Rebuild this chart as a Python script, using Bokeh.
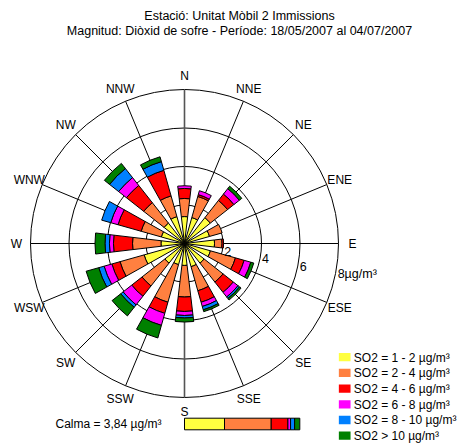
import numpy as np
from bokeh.plotting import figure
from bokeh.models import Range1d, ColumnDataSource
from bokeh.core.properties import value
from bokeh.embed import file_html
from bokeh.resources import INLINE

# ---------------- data ----------------
title_lines = ["Estació: Unitat Mòbil 2 Immissions",
               "Magnitud: Diòxid de sofre - Període: 18/05/2007 al 04/07/2007"]
directions = ["N", "NNE", "NE", "ENE", "E", "ESE", "SE", "SSE",
              "S", "SSW", "SW", "WSW", "W", "WNW", "NW", "NNW"]
bearings = [0, 22.5, 45, 67.5, 90, 112.5, 135, 157.5,
            180, 202.5, 225, 247.5, 270, 292.5, 315, 337.5]
class_labels = ["SO2 = 1 - 2 µg/m³", "SO2 = 2 - 4 µg/m³", "SO2 = 4 - 6 µg/m³",
                "SO2 = 6 - 8 µg/m³", "SO2 = 8 - 10 µg/m³", "SO2 > 10 µg/m³"]
class_colors = ["#FFFF40", "#FF8040", "#FF0000", "#FF00FF", "#0080FF", "#008000"]

so2_1_2  = [1.40, 1.40, 1.71, 1.35, 1.56, 1.40, 1.30, 1.25, 1.14, 1.14, 1.30, 2.18, 1.22, 1.25, 1.35, 1.45]
so2_2_4  = [0.94, 1.14, 1.14, 0.68, 0.39, 1.35, 1.25, 1.30, 1.64, 2.03, 1.51, 1.30, 1.48, 1.09, 1.35, 1.12]
so2_4_6  = [0.52, 0.10, 0.42, 0.00, 0.08, 0.47, 0.68, 0.62, 0.75, 0.60, 0.68, 0.44, 0.99, 1.25, 1.14, 1.38]
so2_6_8  = [0.14, 0.21, 0.36, 0.00, 0.00, 0.36, 0.31, 0.23, 0.21, 0.65, 0.57, 0.42, 0.21, 0.39, 0.52, 0.00]
so2_8_10 = [0.00, 0.00, 0.00, 0.00, 0.00, 0.00, 0.10, 0.18, 0.13, 0.00, 0.16, 0.29, 0.23, 0.49, 0.60, 0.47]
so2_gt10 = [0.00, 0.00, 0.16, 0.00, 0.00, 0.16, 0.10, 0.10, 0.21, 0.68, 0.57, 0.68, 0.52, 0.00, 0.34, 0.26]

rings = [2, 4, 6, 8]
ring_labels = ["2", "4", "6", "8µg/m³"]

calm_label = "Calma = 3,84 µg/m³"
calm_shares = [34.7, 40.5, 14.5, 2.3, 3.5, 4.5]   # percent of calm bar

# ---------------- geometry helpers ----------------
S = 19.25            # px per unit
CX, CY = 184, 243    # rose centre on page
W, H = 462, 443
TXT = 4.3 - 4.0      # baseline offset below visual centre of caps (px)

def X(px):
    return (px - CX) / S

def Y(py):
    return (CY - py) / S

p = figure(width=W, height=H, output_backend="svg", toolbar_location=None,
           x_range=Range1d(X(0), X(W)), y_range=Range1d(Y(H), Y(0)),
           min_border=0, background_fill_color="white", border_fill_color="white")
p.axis.visible = False
p.xgrid.visible = False
p.ygrid.visible = False
p.outline_line_color = None

FONT = value("Liberation Sans")

# rings
p.circle(x=[0] * len(rings), y=[0] * len(rings), radius=rings,
         fill_color=None, line_color="black", line_width=1)

# spokes
rad = np.deg2rad(bearings)
rmax = rings[-1]
xs1 = rmax * np.sin(rad)
ys1 = rmax * np.cos(rad)
spoke_colors = ["#555555" if b % 180 == 0 else "black" for b in bearings]
spoke_widths = [1.6 if b % 180 == 0 else 1 for b in bearings]
p.segment(x0=[0] * 16, y0=[0] * 16, x1=xs1, y1=ys1,
          line_color=spoke_colors, line_width=spoke_widths)

# stacked wedges
classes = [so2_1_2, so2_2_4, so2_4_6, so2_6_8, so2_8_10, so2_gt10]
vals = np.array(classes)          # 6 x 16
cum = np.cumsum(vals, axis=0)
half = np.deg2rad(13.5) / 2
inner, outer, sa, ea, cols = [], [], [], [], []
for j, b in enumerate(bearings):
    ang = np.deg2rad(90 - b)
    for i in range(6):
        if vals[i, j] <= 0:
            continue
        inner.append(cum[i, j] - vals[i, j])
        outer.append(cum[i, j])
        sa.append(ang - half)
        ea.append(ang + half)
        cols.append(class_colors[i])
src = ColumnDataSource(dict(x=[0] * len(inner), y=[0] * len(inner), inner=inner,
                            outer=outer, sa=sa, ea=ea, c=cols))
p.annular_wedge(x="x", y="y", inner_radius="inner", outer_radius="outer",
                start_angle="sa", end_angle="ea", fill_color="c",
                line_color="black", line_width=1, source=src)

# direction labels
rl = 168 / S
lx = rl * np.sin(rad)
ly = rl * np.cos(rad) - TXT / S
p.text(x=lx, y=ly, text=directions, text_font=FONT, text_font_size="12px",
       text_align="center", text_baseline="alphabetic", text_color="black")

# ring labels
ra = np.deg2rad(-11)
rx = [(r + 2 / S) * np.cos(ra) for r in rings]
ry = [(r + 2 / S) * np.sin(ra) - TXT / S for r in rings]
p.text(x=rx, y=ry, text=ring_labels, text_font=FONT, text_font_size="12.5px",
       text_align="left", text_baseline="alphabetic", text_color="black")

# title
p.text(x=[X(239), X(239)], y=[Y(15.5 + TXT), Y(30.5 + TXT)], text=title_lines,
       text_font=FONT, text_font_size="12.5px", text_align="center",
       text_baseline="alphabetic", text_color="black")

# legend
row_y = [356.7 + 15.7 * i for i in range(6)]
p.rect(x=[X(344.2)] * 6, y=[Y(r) for r in row_y], width=11.7 / S, height=8.3 / S,
       fill_color=class_colors, line_color=None)
p.text(x=[X(353.3)] * 6, y=[Y(r + TXT) for r in row_y], text=class_labels,
       text_font=FONT, text_font_size="12px", text_align="left",
       text_baseline="alphabetic", text_color="black")

# calm bar
bar_len = 115.3
cs = np.cumsum(calm_shares) / np.sum(calm_shares) * bar_len
left_px = np.concatenate([[0], cs[:-1]]) + 184
right_px = cs + 184
p.quad(left=[X(v) for v in left_px], right=[X(v) for v in right_px],
       top=[Y(417.7)] * 6, bottom=[Y(429.3)] * 6,
       fill_color=class_colors, line_color="black", line_width=1)
p.text(x=[X(55)], y=[Y(423.3 + TXT)], text=[calm_label], text_font=FONT,
       text_font_size="12px", text_align="left", text_baseline="alphabetic",
       text_color="black")

open("out.html", "w").write(file_html(p, INLINE))
